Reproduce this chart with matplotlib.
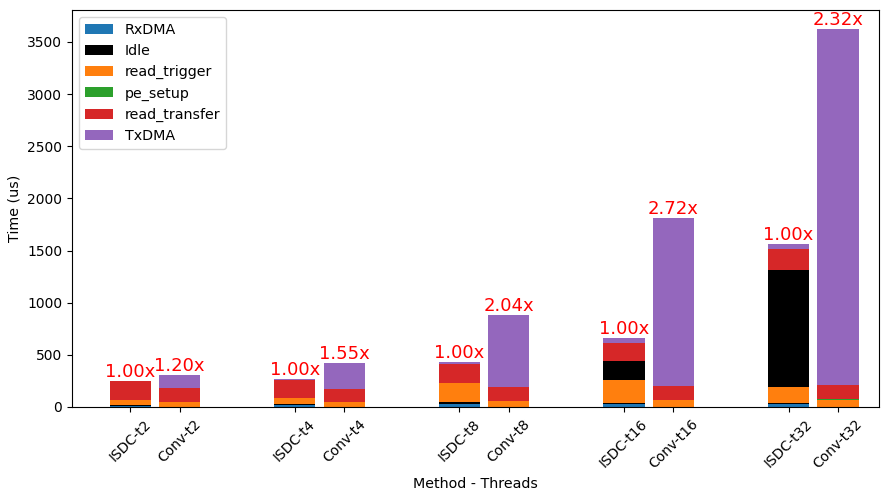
import numpy as np
import matplotlib
matplotlib.use("Agg")
import matplotlib.pyplot as plt

# threads per group
threads = ["t2", "t4", "t8", "t16", "t32"]

# ISDC breakdown (us), stacked bottom -> top
isdc_rxdma = [10, 15, 32, 24, 30]
isdc_idle_low = [10, 12, 14, 16, 12]
isdc_read_trigger = [45, 60, 187, 222, 147]
isdc_idle_high = [0, 0, 0, 179, 1122]
isdc_pe_setup = [2, 2, 1, 2, 2]
isdc_read_transfer = [180, 169, 175, 174, 203]
isdc_txdma = [5, 12, 22, 48, 46]

# Conv breakdown (us)
conv_rxdma = [2, 2, 3, 3, 3]
conv_idle_low = [0, 0, 0, 0, 0]
conv_read_trigger = [47, 42, 52, 62, 68]
conv_idle_high = [0, 0, 0, 0, 0]
conv_pe_setup = [2, 2, 2, 4, 4]
conv_read_transfer = [132, 128, 130, 130, 138]
conv_txdma = [119, 245, 692, 1610, 3411]

isdc_labels = ["1.00x", "1.00x", "1.00x", "1.00x", "1.00x"]
conv_labels = ["1.20x", "1.55x", "2.04x", "2.72x", "2.32x"]

segments = [
    ("RxDMA", "tab:blue", isdc_rxdma, conv_rxdma),
    ("Idle", "black", isdc_idle_low, conv_idle_low),
    ("read_trigger", "tab:orange", isdc_read_trigger, conv_read_trigger),
    ("_nolegend_", "black", isdc_idle_high, conv_idle_high),
    ("pe_setup", "tab:green", isdc_pe_setup, conv_pe_setup),
    ("read_transfer", "tab:red", isdc_read_transfer, conv_read_transfer),
    ("TxDMA", "tab:purple", isdc_txdma, conv_txdma),
]

x = np.arange(len(threads))
offset = 0.15
width = 0.25

fig, ax = plt.subplots(figsize=(8.83, 4.91), dpi=100)
fig.subplots_adjust(left=72/883, right=879/883, top=1-10/491, bottom=1-407/491)

bottom_isdc = np.zeros(len(threads))
bottom_conv = np.zeros(len(threads))
for label, color, isdc_vals, conv_vals in segments:
    ax.bar(x - offset, isdc_vals, width, bottom=bottom_isdc, color=color, label=label)
    ax.bar(x + offset, conv_vals, width, bottom=bottom_conv, color=color)
    bottom_isdc += np.array(isdc_vals)
    bottom_conv += np.array(conv_vals)

# speedup labels above each bar
for i in range(len(threads)):
    ax.text(x[i] - offset, bottom_isdc[i], isdc_labels[i], color="red",
            ha="center", va="bottom", fontsize=13)
    ax.text(x[i] + offset, bottom_conv[i], conv_labels[i], color="red",
            ha="center", va="bottom", fontsize=13)

ticks = np.ravel(np.column_stack([x - offset, x + offset]))
tick_labels = []
for t in threads:
    tick_labels += [f"ISDC-{t}", f"Conv-{t}"]
ax.set_xticks(ticks)
ax.set_xticklabels(tick_labels, rotation=45)
ax.set_xlim(-0.503, 4.399)

ax.set_xlabel("Method - Threads", fontsize=10.3)
ax.set_ylabel("Time (us)", fontsize=10.3)
ax.legend(loc="upper left", fontsize=10.3)

plt.savefig("out.png", dpi=100)
